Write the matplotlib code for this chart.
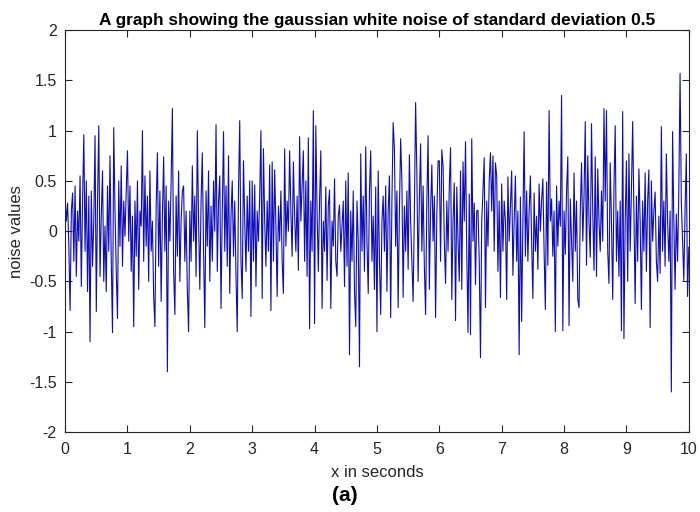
import matplotlib
matplotlib.use('Agg')
import matplotlib.pyplot as plt
from matplotlib.ticker import FuncFormatter
import numpy as np

# noise samples, one list per second (step 0.02 s)
seg0 = [0.34, 0.1, 0.28, -0.15, -0.79, 0.2, 0.38, -0.3, 0.45, -0.45,
        0.2, -0.1, 0.55, -0.55, 0.3, 0.96, -0.2, 0.5, -0.6, 0.35,
        -1.1, 0.4, -0.35, 0.1, 0.95, -0.8, 0.3, 1.05, -0.45, 0.15,
        0.6, -0.5, 0.05, -0.6, 0.45, -0.2, 0.75, -0.3, -1.01, 1.03,
        0.2, -0.4, -0.87, 0.5, -0.15, 0.65, -0.35, 0.3, -0.05, 0.4]
seg1 = [0.8, -0.1, 0.45, -0.4, 0.15, -0.95, 0.3, -0.25, 0.5, -0.58,
        0.2, 0.05, 1.0, -0.3, 0.55, -0.15, 0.35, -0.5, 0.6, -0.2,
        0.1, -0.65, -0.95, 0.25, 0.78, -0.35, 0.4, -0.7, 0.15, 0.74,
        -0.2, 0.45, -1.40, 0.3, -0.1, 0.5, 1.22, -0.4, -0.83, 0.35,
        -0.25, 0.6, -0.5, 0.1, 0.4, 0.45, -0.3, 0.2, -0.6, -1.0]
seg2 = [0.2, -0.3, 0.65, -0.1, 0.35, -0.45, 1.0, 0.1, -0.58, 0.3,
        0.78, -0.2, -0.96, 0.4, -0.15, 0.6, -0.5, 0.25, -0.3, 0.5,
        0.0, 1.06, -0.4, 0.3, 0.55, -0.77, 0.2, 0.99, -0.2, 0.45,
        -0.35, 0.75, -0.62, 0.15, 0.5, -0.25, 0.3, -0.45, -1.0, 0.4,
        1.1, -0.3, -0.67, 0.7, 0.1, -0.4, 0.35, -0.2, 0.5, -0.85]
seg3 = [0.5, -0.3, 0.46, -0.55, 0.2, -0.1, 0.35, 1.0, -0.67, 0.82,
        0.1, -0.35, 0.3, -0.2, 0.66, -0.79, 0.69, -0.3, 0.61, 0.05,
        -0.65, 0.25, -0.1, 0.4, -0.3, -0.62, 0.82, -0.15, 0.3, 0.0,
        0.8, 0.2, -0.25, 0.69, 0.15, -0.2, 0.35, -0.39, 0.94, 0.1,
        0.45, 0.8, -0.3, 0.5, -0.45, 0.93, -0.97, 0.3, -0.2, 1.2]
seg4 = [-0.92, 1.05, 0.2, -0.4, 0.3, 0.8, -0.77, 0.1, -0.2, 0.44,
        -0.49, 0.25, 0.41, -0.77, 0.1, -0.15, 0.52, -0.3, -0.45, 0.15,
        0.26, -0.2, 0.05, 0.3, -0.55, 0.5, -0.35, 0.58, -1.23, 0.2,
        -0.3, 0.4, -0.6, -0.95, 0.3, -0.1, -1.35, 0.77, -0.2, 0.35,
        -0.4, 0.84, -0.1, -0.62, 0.4, 0.8, -0.3, 0.15, -0.58, 0.44]
seg5 = [-1.0, 0.6, -0.3, -0.83, 0.1, 0.35, -0.2, 0.45, -0.6, 0.2,
        0.55, -0.86, 0.3, 1.08, 0.82, -0.15, 0.4, -0.76, 0.2, 0.92,
        0.5, -0.66, 0.25, -0.2, 0.4, -0.38, 0.76, 0.1, -0.3, -0.7,
        0.2, 1.28, 0.58, -0.5, 0.3, 0.87, -0.2, 0.45, -0.35, -0.83,
        0.3, 0.95, -0.58, 0.2, 0.66, -0.1, 0.35, -0.86, 0.15, 0.7]
seg6 = [0.7, -0.3, 0.81, 0.65, -0.1, -0.52, 0.3, -0.2, 0.45, 0.83,
        -0.68, 0.1, 0.48, -0.89, 0.44, -0.1, -0.5, 0.6, -0.58, 0.69,
        0.1, 0.89, -0.2, -1.01, 0.37, -1.03, 0.92, -0.1, 0.28, -0.53,
        0.2, 0.21, -0.3, -1.26, 0.1, 0.4, 0.73, -0.76, 0.3, -0.15,
        0.5, 0.78, 0.2, 0.75, -0.2, 0.68, 0.55, -0.4, 0.3, -0.66]
seg7 = [0.47, -0.2, 0.3, 0.1, -0.68, 0.54, -0.1, 0.25, 0.6, -0.44,
        0.1, 0.55, -0.3, 0.2, -1.23, 0.34, -0.9, 0.1, 0.99, -0.25,
        0.4, -0.3, 0.2, 0.55, -0.1, -0.67, 0.38, -0.2, 0.15, -0.38,
        0.47, 0.0, 0.3, 0.52, -0.2, -0.78, 0.49, -0.34, 1.2, 0.1,
        0.32, -0.25, 0.2, -1.0, 0.45, -0.15, 0.3, 0.05, 1.35, -0.99]
seg8 = [0.2, -0.23, 0.4, 0.74, -0.94, 0.32, -0.1, -0.5, 0.58, -0.2,
        0.3, -0.68, -0.76, 0.2, 0.68, -0.1, 0.35, 1.09, -0.34, 0.75,
        0.1, -0.26, 1.07, 0.2, -0.39, 0.74, -0.45, 0.62, 0.1, -0.2,
        0.4, -0.1, 1.22, 0.3, 1.2, -0.2, -0.52, 0.68, 0.1, -0.68,
        0.43, 1.05, -0.3, 0.2, -0.45, 0.3, -0.99, 1.19, -1.07, 0.1]
seg9 = [0.7, -0.5, 0.77, -0.2, 0.4, 1.09, 0.2, -0.72, 0.35, -0.3,
        0.62, 0.1, -0.78, 0.3, -0.2, 0.58, -0.4, 0.3, 0.61, -0.96,
        0.5, -0.1, 0.2, 0.39, -0.3, -0.5, 0.15, -0.42, 1.04, -0.2,
        0.3, -0.35, 0.77, 0.1, -0.3, 0.2, -1.6, 0.99, 0.1, -0.58,
        0.17, -0.3, 0.4, 1.57, 0.3, -0.1, -0.49, 0.2, 0.77, -0.65]
last_value = [-0.16]

dt = 0.02
x_ticks = list(range(0, 11))
y_ticks = [-2, -1.5, -1, -0.5, 0, 0.5, 1, 1.5, 2]

plt.rcParams['font.family'] = ['Liberation Sans', 'DejaVu Sans']
plt.rcParams['axes.unicode_minus'] = False

noise = np.array(seg0 + seg1 + seg2 + seg3 + seg4 + seg5 + seg6 + seg7 + seg8 + seg9 + last_value)
t = np.arange(len(noise)) * dt

fig = plt.figure(figsize=(7, 5.12), dpi=100)
ax = fig.add_axes([0.093, 0.156, 0.891, 0.785])
ax.plot(t, noise, color=(0.05, 0.05, 0.72), linewidth=0.8)

ax.set_xlim(0, 10)
ax.set_ylim(-2, 2)
ax.set_xticks(x_ticks)
ax.set_yticks(y_ticks)
ax.yaxis.set_major_formatter(FuncFormatter(lambda v, p: '%g' % v))
ax.tick_params(direction='in', top=True, right=True, length=5, width=0.8,
               labelsize=11.5, colors='#262626')
ax.tick_params(axis='x', pad=7)
ax.tick_params(axis='y', pad=6)
for s in ax.spines.values():
    s.set_color('#262626')
    s.set_linewidth(0.8)

ax.set_title('A graph showing the gaussian white noise of standard deviation 0.5',
             fontsize=12.4, fontweight='bold', pad=4)
ax.set_xlabel('x in seconds', fontsize=12, color='#262626', labelpad=6)
ax.set_ylabel('noise values', fontsize=12, color='#262626', labelpad=4)
fig.text(0.493, 0.022, '(a)', fontsize=15, fontweight='bold', ha='center')

fig.savefig('out.png', dpi=100)
